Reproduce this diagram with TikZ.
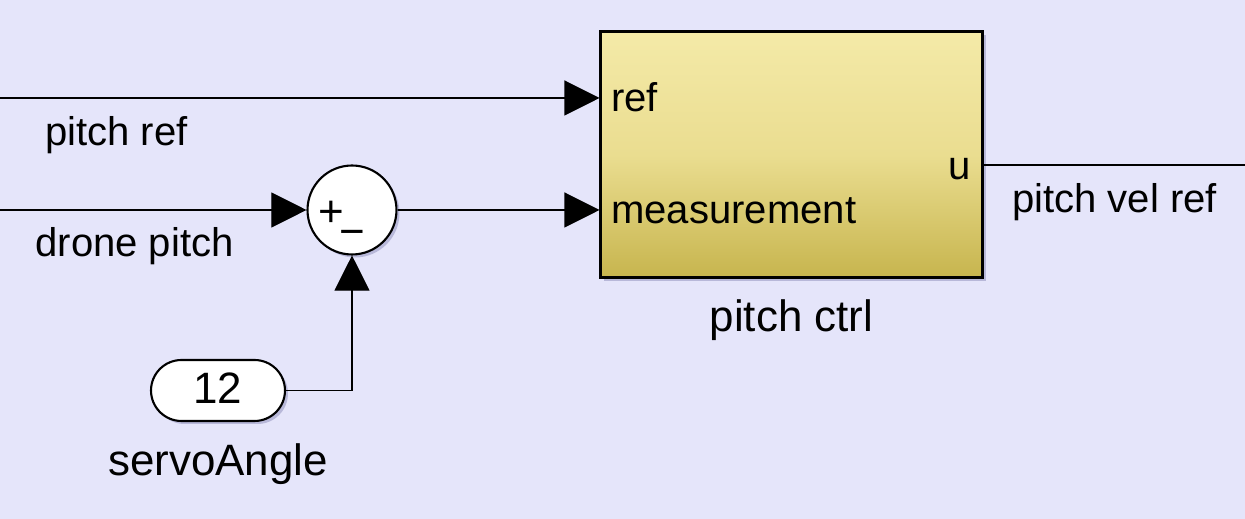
\documentclass[tikz,border=0pt]{standalone}
\usepackage{fontspec}
\setmainfont{Liberation Sans}
\usepackage{tikz}
\usetikzlibrary{positioning, arrows.meta, shapes.misc, shadows, calc}
\definecolor{bgcol}{RGB}{229,229,250}
\definecolor{blktop}{RGB}{244,234,168}
\definecolor{blkmid}{RGB}{234,221,144}
\definecolor{blkbot}{RGB}{199,181,78}
\definecolor{shadcol}{RGB}{140,140,185}
\newcommand{\SigFont}{\fontsize{22.8}{27}\selectfont}
\newcommand{\NameFont}{\fontsize{25}{30}\selectfont}
\tikzset{
    wire/.style={draw=black, line width=0.6pt},
    sig/.style={wire, -{Triangle[length=0.7cm, width=0.7cm]}},
    blk/.style={rectangle, draw=black, line width=1.2pt, top color=blktop, bottom color=blkbot, middle color=blkmid,
      drop shadow={shadow xshift=0.07cm, shadow yshift=-0.07cm, fill=shadcol, opacity=0.5}},
    sumblk/.style={circle, draw=black, line width=1.2pt, fill=white, inner sep=0pt,
      drop shadow={shadow xshift=0.06cm, shadow yshift=-0.06cm, fill=shadcol, opacity=0.5}},
    constblk/.style={rounded rectangle, draw=black, line width=1.2pt, fill=white, inner sep=0pt, font=\NameFont,
      drop shadow={shadow xshift=0.06cm, shadow yshift=-0.06cm, fill=shadcol, opacity=0.5}},
    lbl/.style={inner sep=0pt, font=\SigFont},
    namelbl/.style={inner sep=0pt, font=\NameFont},
}

\begin{document}
\begin{tikzpicture}[x=0.02cm, y=-0.02cm]
    \fill[bgcol] (0,0) rectangle (1245,519);
    \useasboundingbox (0,0) rectangle (1245,519);

    \node[blk, minimum width=7.64cm, minimum height=4.92cm] (pctrl) at (791.5,154.5) {};
    \node[lbl, anchor=base west] (pref) at (611,112) {ref};
    \node[lbl, anchor=base west] (pmeas) at (611,224) {measurement};
    \node[lbl, anchor=base east] (pu) at (971,180) {u};
    \node[namelbl, below=0.42cm of pctrl] (pctrlname) {pitch ctrl};

    \node[sumblk, minimum size=1.78cm] (sum) at (352,210) {};
    \node[namelbl, anchor=base] (splus) at (331,227) {+};
    \node[namelbl, anchor=base] (sminus) at (352.5,246.5) {−};

    \node[constblk, minimum width=2.68cm, minimum height=1.22cm] (servo) at (218,390.5) {};
    \node[namelbl, anchor=base] (servoval) at (218,404) {12};
    \node[namelbl, below=0.42cm of servo] (servoname) {servoAngle};

    \coordinate (refsrc) at (0,98);
    \coordinate (pitchsrc) at (0,210);
    \coordinate (velout) at (1245,165);

    \draw[sig] (refsrc) -- (refsrc -| pctrl.west);
    \draw[sig] (pitchsrc) -- (sum.west);
    \draw[sig] (sum.east) -- (sum.east -| pctrl.west);
    \draw[sig] (servo.east) -| (sum.south);
    \draw[wire] (velout -| pctrl.east) -- (velout);

    \node[lbl, anchor=base] (refname) at (116.5,146) {pitch ref};
    \node[lbl, anchor=base] (pitchname) at (134.5,257) {drone pitch};
    \node[lbl, anchor=base] (velname) at (1114.5,213) {pitch vel ref};
\end{tikzpicture}
\end{document}
